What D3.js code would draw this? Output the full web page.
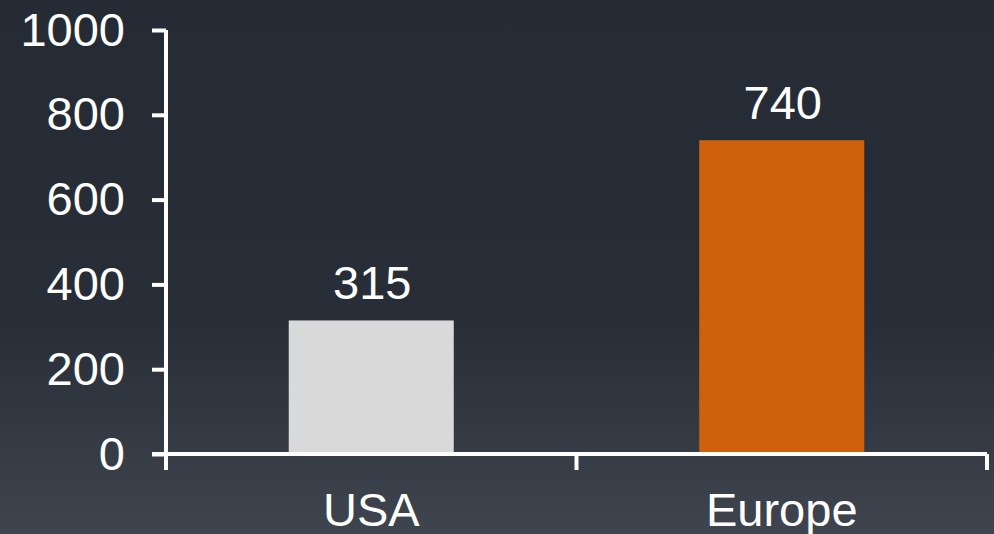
<!DOCTYPE html>
<html>
<head>
<meta charset="utf-8">
<script src="https://cdn.jsdelivr.net/npm/d3@7"></script>
<style>
  body { margin: 0; background: #262c35; }
  svg { display: block; }
  text { font-family: "Liberation Sans", Arial, sans-serif; fill: #fff; }
</style>
</head>
<body>
<div class="chart"></div>
<script>
var regions = ["USA", "Europe"];
var values = [315, 740];
var barColors = ["#d9d9d9", "#d0610c"];
var yTicks = [0, 200, 400, 600, 800, 1000];

var svgWidth = 994;
var svgHeight = 534;

var margin = {
  top: 30,
  bottom: 80,
  right: 7,
  left: 166
};

var height = svgHeight - margin.top - margin.bottom;
var width = svgWidth - margin.left - margin.right;

var svg = d3.select(".chart")
  .append("svg")
  .attr("width", svgWidth)
  .attr("height", svgHeight);

// background gradient
var grad = svg.append("defs").append("linearGradient")
  .attr("id", "bg")
  .attr("x1", 0).attr("y1", 0).attr("x2", 0).attr("y2", 1);
grad.append("stop").attr("offset", "0").attr("stop-color", "#252b34");
grad.append("stop").attr("offset", "0.6").attr("stop-color", "#282e37");
grad.append("stop").attr("offset", "1").attr("stop-color", "#3e454e");

svg.append("rect")
  .attr("width", svgWidth)
  .attr("height", svgHeight)
  .attr("fill", "url(#bg)");

var chartGroup = svg.append("g")
  .attr("transform", `translate(${margin.left}, ${margin.top})`);

// scales
var xScale = d3.scaleBand()
  .domain(regions)
  .range([0, width])
  .padding(0);

var yScale = d3.scaleLinear()
  .domain([0, 1000])
  .range([height, 0]);

var barWidth = xScale.bandwidth() * 0.402;

// bars
chartGroup.selectAll(".bar")
  .data(regions)
  .enter()
  .append("rect")
  .attr("class", "bar")
  .attr("x", d => xScale(d) + (xScale.bandwidth() - barWidth) / 2)
  .attr("y", (d, i) => yScale(values[i]))
  .attr("width", barWidth)
  .attr("height", (d, i) => height - yScale(values[i]))
  .attr("fill", (d, i) => barColors[i]);

// value labels
chartGroup.selectAll(".val")
  .data(regions)
  .enter()
  .append("text")
  .attr("class", "val")
  .attr("x", d => xScale(d) + xScale.bandwidth() / 2 + 1)
  .attr("y", (d, i) => yScale(values[i]) - 21)
  .attr("text-anchor", "middle")
  .style("font-size", "47px")
  .text((d, i) => values[i]);

// y axis
var yAxis = d3.axisLeft(yScale)
  .tickValues(yTicks)
  .tickSize(14)
  .tickSizeOuter(0)
  .tickPadding(27)
  .tickFormat(d3.format("d"));

var yG = chartGroup.append("g").call(yAxis);
yG.select(".domain").remove();
yG.selectAll("line").attr("stroke", "#fff").attr("stroke-width", 4);
yG.selectAll("text").style("font-size", "47px").attr("fill", "#fff");

chartGroup.append("line")
  .attr("x1", 0).attr("x2", 0)
  .attr("y1", yScale(1000)).attr("y2", height + 16)
  .attr("stroke", "#fff")
  .attr("stroke-width", 4);

// x axis
var xAxis = d3.axisBottom(xScale)
  .tickSize(0)
  .tickPadding(39);

var xG = chartGroup.append("g")
  .attr("transform", `translate(0, ${height})`)
  .call(xAxis);
xG.select(".domain").remove();
xG.selectAll("text").style("font-size", "47px").attr("fill", "#fff");

xG.append("line")
  .attr("x1", -14).attr("x2", width)
  .attr("y1", 0).attr("y2", 0)
  .attr("stroke", "#fff")
  .attr("stroke-width", 4);

// ticks on band edges
var edges = regions.map(d => xScale(d)).concat([width]);
xG.selectAll(".edge")
  .data(edges)
  .enter()
  .append("line")
  .attr("class", "edge")
  .attr("x1", d => d).attr("x2", d => d)
  .attr("y1", 0).attr("y2", 16)
  .attr("stroke", "#fff")
  .attr("stroke-width", 4);
</script>
</body>
</html>
